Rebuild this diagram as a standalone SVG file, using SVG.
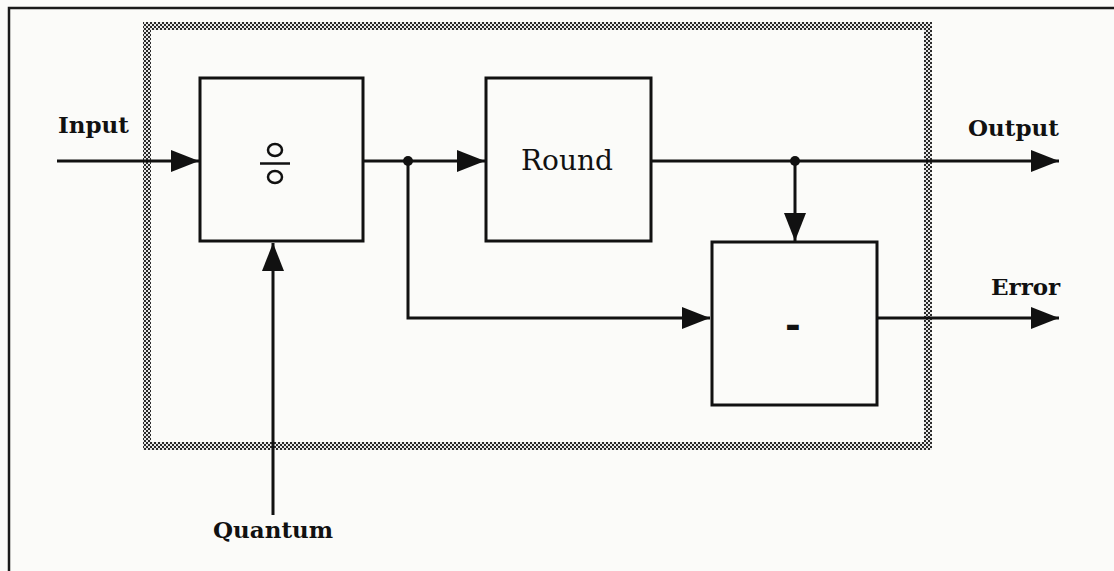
<svg xmlns="http://www.w3.org/2000/svg" width="1114" height="571" viewBox="0 0 1114 571">
  <defs>
    <!-- fine checkered fill used for the enclosing boundary -->
    <pattern id="checker" width="4" height="4" patternUnits="userSpaceOnUse">
      <rect width="4" height="4" fill="#e8e8e8"/>
      <rect x="0" y="0" width="2" height="2" fill="#2a2a2a"/>
      <rect x="2" y="2" width="2" height="2" fill="#2a2a2a"/>
    </pattern>
    <marker id="arrow" viewBox="0 0 28 22" refX="28" refY="11" markerWidth="28" markerHeight="22" markerUnits="userSpaceOnUse" orient="auto">
      <path d="M0,0 L28,11 L0,22 Z" fill="#111"/>
    </marker>
    <style>
      .block { fill: none; stroke: #111; stroke-width: 3; }
      .wire { fill: none; stroke: #111; stroke-width: 3; }
      .dot { fill: #111; }
      .label { font-family: "DejaVu Serif", "Liberation Serif", serif; font-weight: bold; font-size: 23px; fill: #111; }
      .inner { font-family: "DejaVu Serif", "Liberation Serif", serif; font-size: 28px; fill: #111; }
      .minus { font-family: "DejaVu Sans", "Liberation Sans", sans-serif; font-weight: bold; font-size: 38px; fill: #111; }
      .sym { fill: none; stroke: #111; stroke-width: 2.5; }
    </style>
  </defs>

  <!-- page background and outer frame -->
  <rect x="0" y="0" width="1114" height="571" fill="#fbfbf9"/>
  <path d="M9,571 L9,8 L1114,8" fill="none" stroke="#1a1a1a" stroke-width="2.5"/>

  <!-- enclosing boundary -->
  <rect id="boundary" x="147" y="26" width="781" height="420" fill="none" stroke="url(#checker)" stroke-width="8"/>

  <!-- connectors -->
  <g id="connectors">
    <line class="wire" x1="57" y1="161" x2="199" y2="161" marker-end="url(#arrow)"/>
    <line class="wire" x1="364" y1="161" x2="485" y2="161" marker-end="url(#arrow)"/>
    <polyline class="wire" points="408,161 408,318 710,318" marker-end="url(#arrow)"/>
    <line class="wire" x1="651" y1="161" x2="1059" y2="161" marker-end="url(#arrow)"/>
    <line class="wire" x1="795" y1="161" x2="795" y2="241" marker-end="url(#arrow)"/>
    <line class="wire" x1="877" y1="318" x2="1059" y2="318" marker-end="url(#arrow)"/>
    <line class="wire" x1="273" y1="515" x2="273" y2="243" marker-end="url(#arrow)"/>
    <circle class="dot" cx="408" cy="161" r="5"/>
    <circle class="dot" cx="795" cy="161" r="5"/>
  </g>

  <!-- external labels -->
  <g id="labels">
    <text class="label" x="58" y="133">Input</text>
    <text class="label" x="968" y="136">Output</text>
    <text class="label" x="991" y="295">Error</text>
    <text class="label" x="213" y="538">Quantum</text>
  </g>

  <!-- divide block: two small circles separated by a bar -->
  <g id="divide">
    <rect class="block" x="200" y="78" width="163" height="163"/>
    <ellipse class="sym" cx="275" cy="150" rx="7" ry="6"/>
    <line class="sym" x1="260" y1="163.5" x2="290" y2="163.5"/>
    <ellipse class="sym" cx="275" cy="177" rx="7" ry="6"/>
  </g>

  <!-- rounding block -->
  <g id="round">
    <rect class="block" x="486" y="78" width="165" height="163"/>
    <text class="inner" x="567" y="170" text-anchor="middle">Round</text>
  </g>

  <!-- subtraction block -->
  <g id="subtract">
    <rect class="block" x="712" y="242" width="165" height="163"/>
    <text class="minus" x="793" y="338" text-anchor="middle">-</text>
  </g>
</svg>
